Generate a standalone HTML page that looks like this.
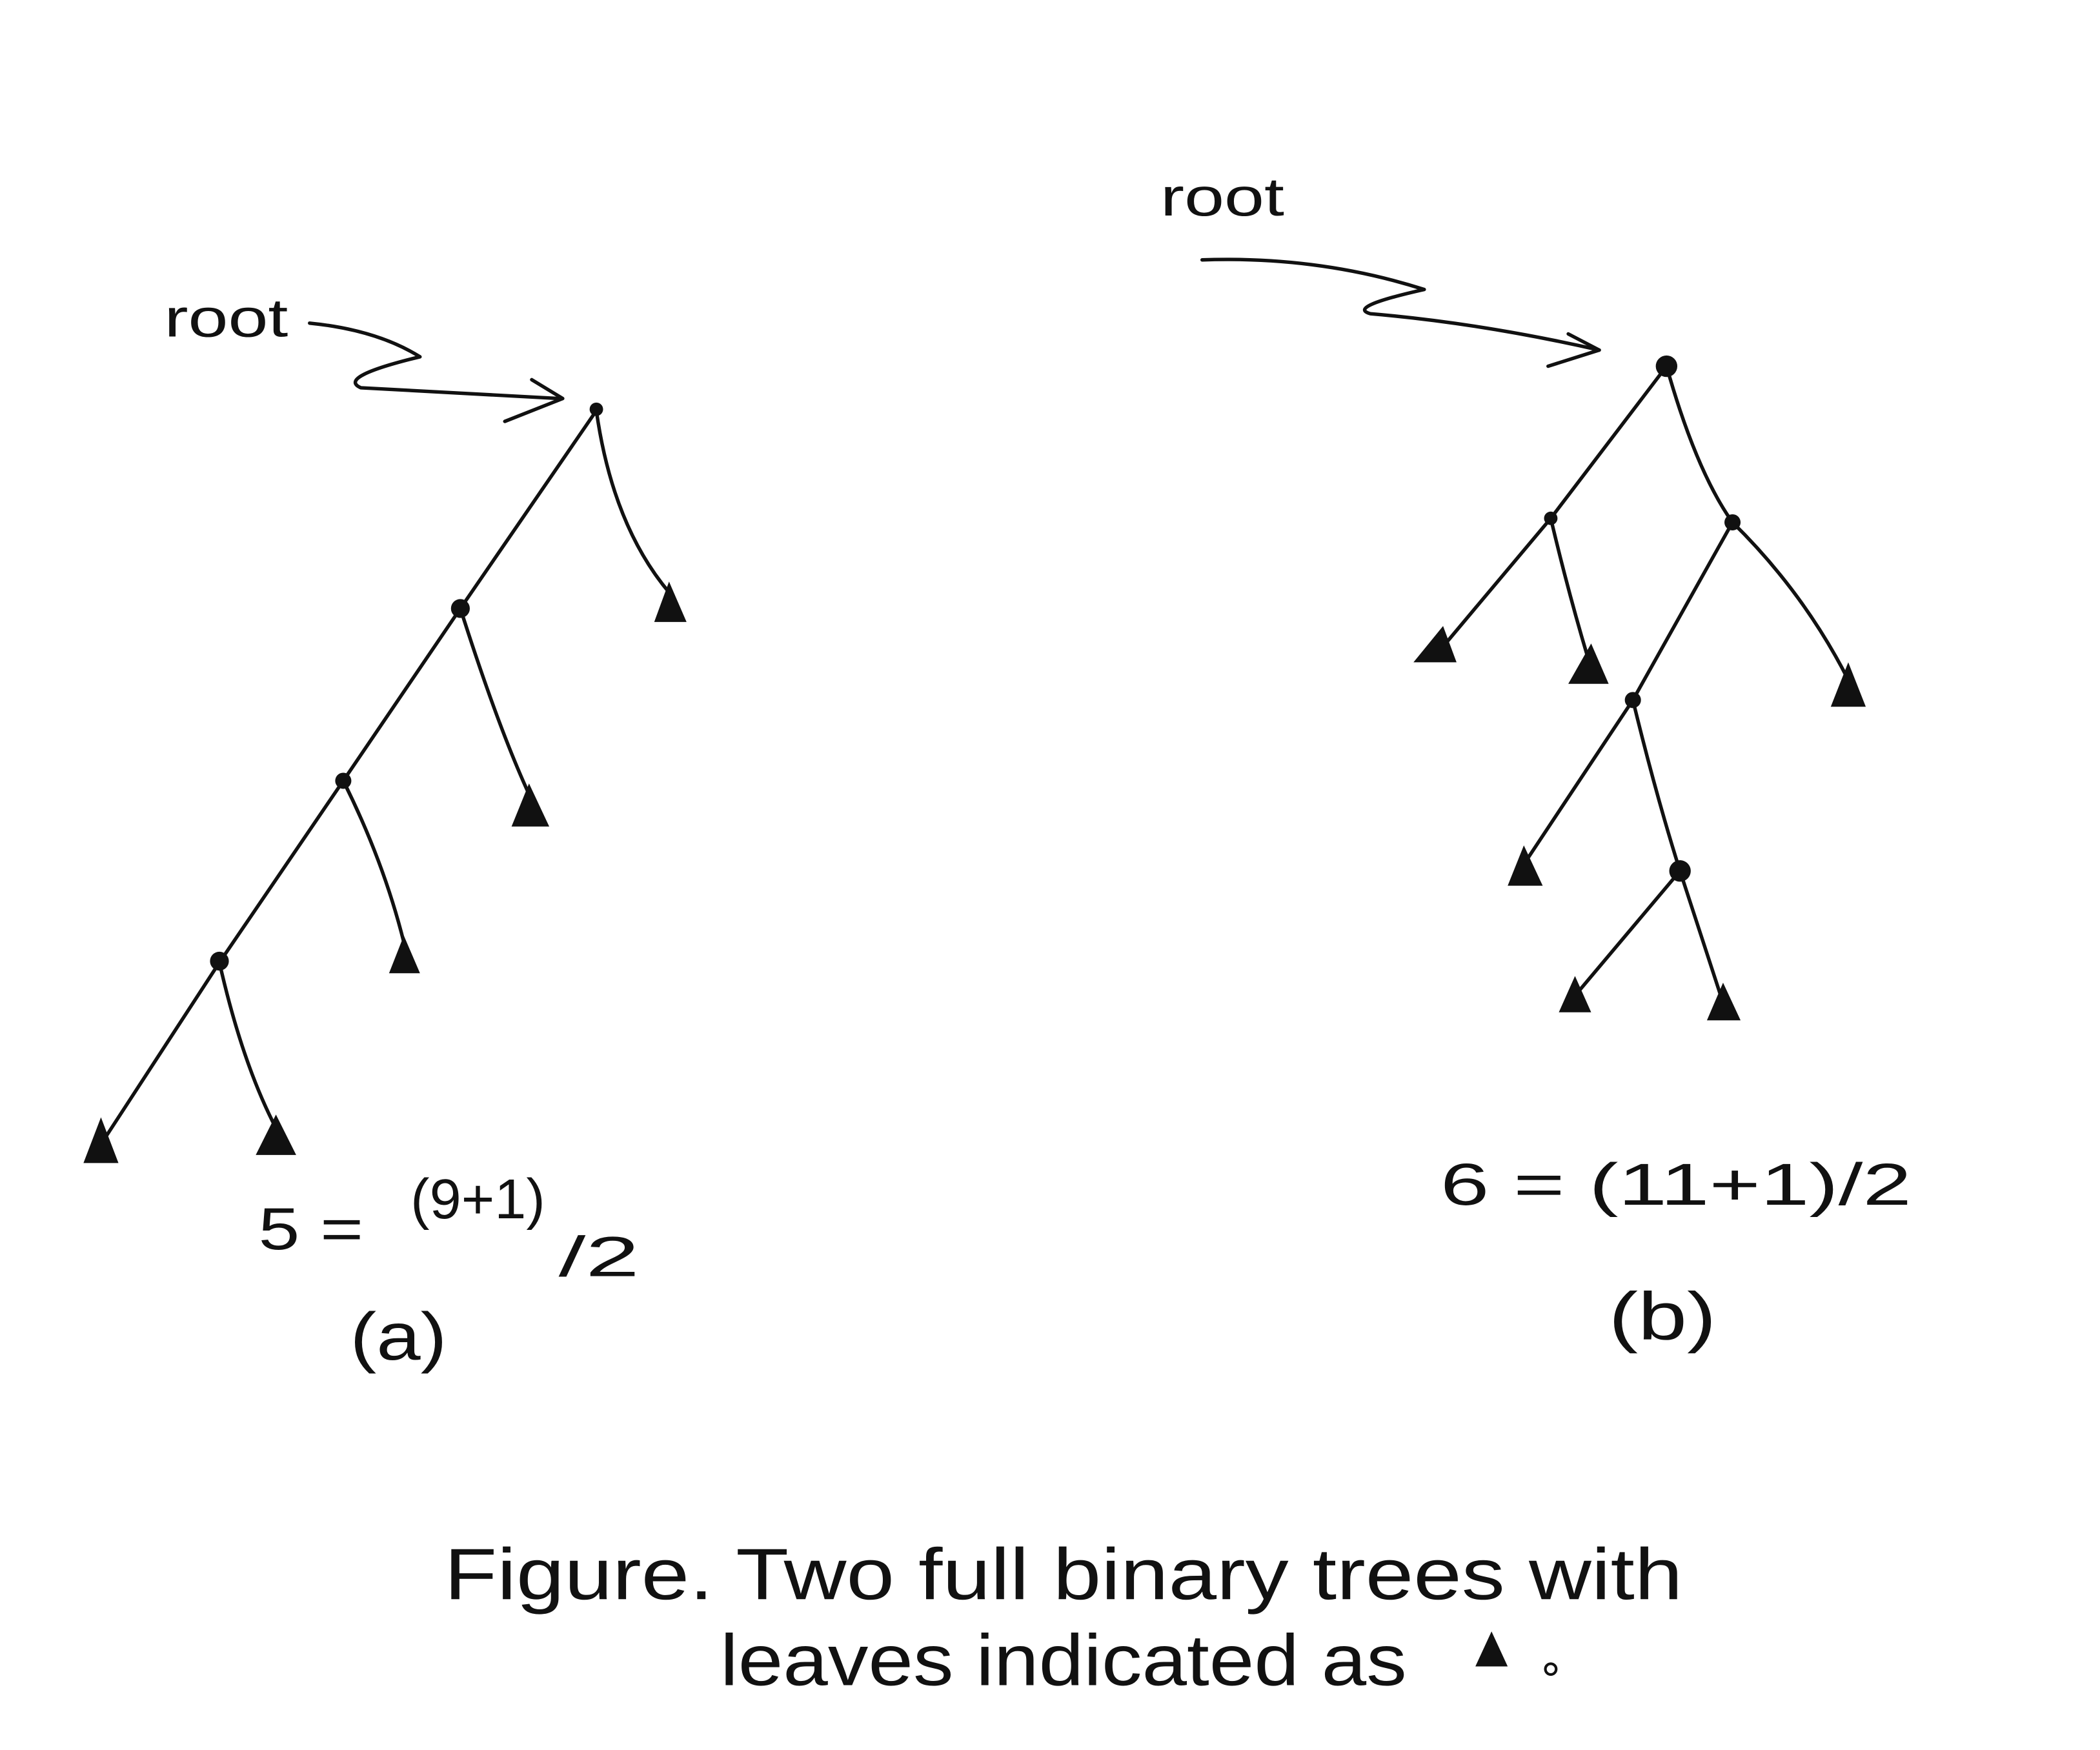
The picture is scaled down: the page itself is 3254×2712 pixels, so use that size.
<!DOCTYPE html>
<html><head><meta charset="utf-8"><style>
html,body{margin:0;padding:0;background:#fff;}
svg{display:block;}
text{font-family:"Liberation Sans",sans-serif;fill:#111;}
</style></head><body>
<svg width="3254" height="2712" viewBox="0 0 1560 1300" xmlns="http://www.w3.org/2000/svg">
<g stroke="#111" stroke-width="2.6" fill="none" stroke-linecap="round" stroke-linejoin="round">
<path d="M443,305 L342,452 L255,580 L163,715 L75,850"/>
<path d="M443,305 Q455,390 497,440"/>
<path d="M342,452 Q370,540 393,590"/>
<path d="M255,580 Q285,640 300,700"/>
<path d="M163,715 Q180,790 205,838"/>
<path d="M230,240 Q280,245 312,265 Q250,280 268,288 Q340,292 415,296"/>
<path d="M395,282 L418,296 L375,313"/>
<path d="M1238,272 L1152,385 L1068,485"/>
<path d="M1238,272 Q1260,350 1287,388"/>
<path d="M1152,385 Q1165,440 1180,490"/>
<path d="M1287,388 L1213,520 L1130,645"/>
<path d="M1287,388 Q1340,440 1373,505"/>
<path d="M1213,520 Q1230,590 1248,647 L1168,742"/>
<path d="M1248,647 L1280,745"/>
<path d="M893,193 Q980,190 1058,215 Q1000,228 1018,233 Q1100,240 1188,260"/>
<path d="M1165,248 L1188,260 L1150,272"/>
</g>
<g fill="#111">
<circle cx="443" cy="304" r="5"/>
<circle cx="342" cy="452" r="7"/>
<circle cx="255" cy="580" r="6"/>
<circle cx="163" cy="714" r="7"/>
<circle cx="1238" cy="272" r="8"/>
<circle cx="1152" cy="385" r="5"/>
<circle cx="1287" cy="388" r="6"/>
<circle cx="1213" cy="520" r="6"/>
<circle cx="1248" cy="647" r="8"/>
<polygon points="497,432 486,462 510,462"/>
<polygon points="393,582 380,614 408,614"/>
<polygon points="300,695 289,723 312,723"/>
<polygon points="75,830 62,864 88,864"/>
<polygon points="205,828 190,858 220,858"/>
<polygon points="1072,465 1050,492 1082,492"/>
<polygon points="1182,478 1165,508 1195,508"/>
<polygon points="1373,492 1360,525 1386,525"/>
<polygon points="1132,628 1120,658 1146,658"/>
<polygon points="1170,725 1158,752 1182,752"/>
<polygon points="1280,730 1268,758 1293,758"/>
<polygon points="1108,1212 1096,1238 1120,1238"/>
</g>
<text x="122" y="250" font-size="40" textLength="92" lengthAdjust="spacingAndGlyphs">root</text>
<text x="862" y="160" font-size="40" textLength="92" lengthAdjust="spacingAndGlyphs">root</text>
<text x="192" y="928" font-size="44" textLength="78" lengthAdjust="spacingAndGlyphs">5 =</text>
<text x="305" y="905" font-size="42" textLength="100" lengthAdjust="spacingAndGlyphs">(9+1)</text>
<text x="415" y="948" font-size="42" textLength="60" lengthAdjust="spacingAndGlyphs">/2</text>
<text x="260" y="1010" font-size="50" textLength="72" lengthAdjust="spacingAndGlyphs">(a)</text>
<text x="1070" y="895" font-size="44" textLength="350" lengthAdjust="spacingAndGlyphs">6  =  (11+1)/2</text>
<text x="1195" y="995" font-size="50" textLength="80" lengthAdjust="spacingAndGlyphs">(b)</text>
<text x="330" y="1188" font-size="54" textLength="920" lengthAdjust="spacingAndGlyphs">Figure.  Two  full  binary  trees  with</text>
<text x="535" y="1252" font-size="54" textLength="510" lengthAdjust="spacingAndGlyphs">leaves  indicated   as</text>
<circle cx="1152" cy="1240" r="4" fill="none" stroke="#111" stroke-width="2"/>
</svg>
</body></html>
